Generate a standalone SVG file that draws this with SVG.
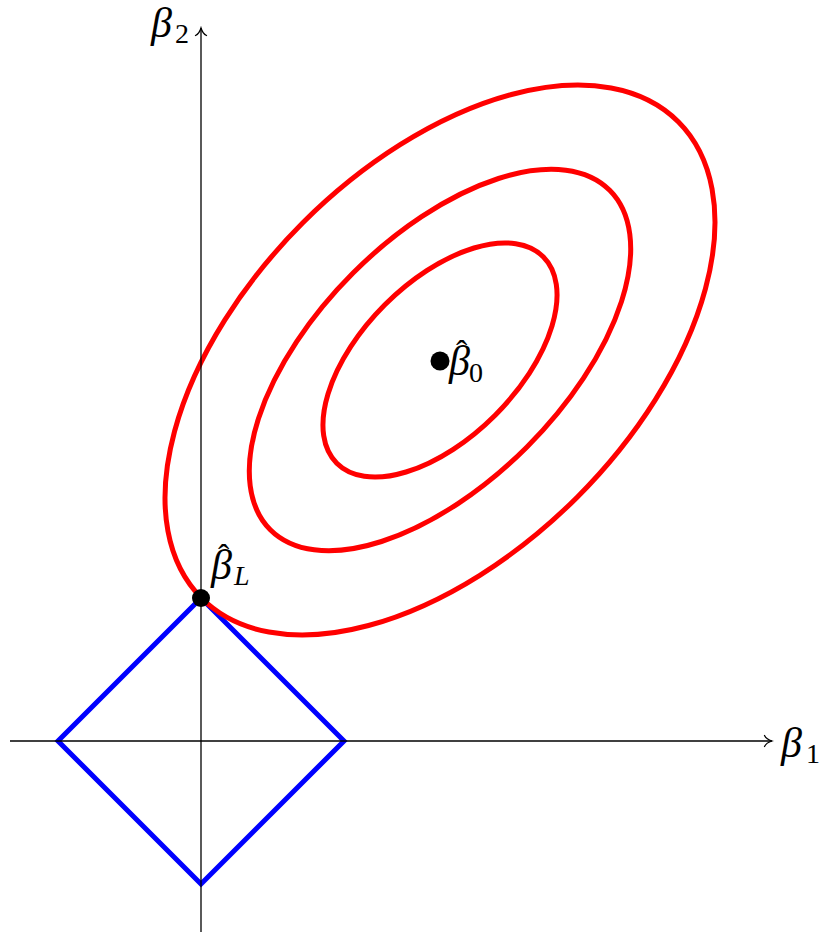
<svg xmlns="http://www.w3.org/2000/svg" width="830" height="933" viewBox="0 0 830 933">
<style>
.axis{stroke:#000;stroke-width:1.3;fill:none}
.contour{stroke:#ff0000;stroke-width:5;fill:none}
.l1{stroke:#0000ff;stroke-width:5;fill:none;stroke-linejoin:miter}
.dot{fill:#000}
.lab{font-family:"Liberation Serif","DejaVu Serif",serif;font-style:italic;font-size:42px;fill:#000}
.sub{font-style:normal;font-size:28px}
.subi{font-style:italic;font-size:28px}
.hat{font-style:normal;font-size:34px}
</style>
<defs>
<marker id="arr" viewBox="-9 -7 11 14" refX="0" refY="0" markerWidth="11" markerHeight="14" markerUnits="userSpaceOnUse" orient="auto">
<path d="M-7.5,-5.5 C-6,-2.5 -2,-0.6 0,0 C-2,0.6 -6,2.5 -7.5,5.5" fill="none" stroke="#000" stroke-width="1.3" stroke-linecap="round"/>
</marker>
</defs>
<rect width="830" height="933" fill="#fff"/>
<g id="l1-ball">
<polygon class="l1" points="201,598 344,741 201,884 58,741"/>
</g>
<g id="contours">
<ellipse class="contour" cx="440" cy="360" rx="337" ry="194" transform="rotate(-45 440 360)"/>
<ellipse class="contour" cx="440" cy="360" rx="240" ry="123" transform="rotate(-45 440 360)"/>
<ellipse class="contour" cx="440" cy="360" rx="146" ry="78" transform="rotate(-45 440 360)"/>
</g>
<g id="connectors">
<line class="axis" x1="10" y1="741" x2="772" y2="741" marker-end="url(#arr)"/>
<line class="axis" x1="201" y1="932" x2="201" y2="28" marker-end="url(#arr)"/>
</g>
<g id="axis-label-b1">
<text class="lab" x="781" y="757">β<tspan class="sub" x="806" y="763">1</tspan></text>
</g>
<g id="axis-label-b2">
<text class="lab" x="151" y="37">β<tspan class="sub" x="175" y="43">2</tspan></text>
</g>
<g id="beta0">
<circle class="dot" cx="440" cy="361" r="9.5"/>
<text class="lab" x="449" y="375">β<tspan class="hat" x="456" y="364">ˆ</tspan><tspan class="sub" x="469" y="382">0</tspan></text>
</g>
<g id="betaL">
<circle class="dot" cx="201" cy="598" r="9"/>
<text class="lab" x="211" y="579">β<tspan class="hat" x="218" y="568">ˆ</tspan><tspan class="subi" x="234" y="585">L</tspan></text>
</g>
</svg>
